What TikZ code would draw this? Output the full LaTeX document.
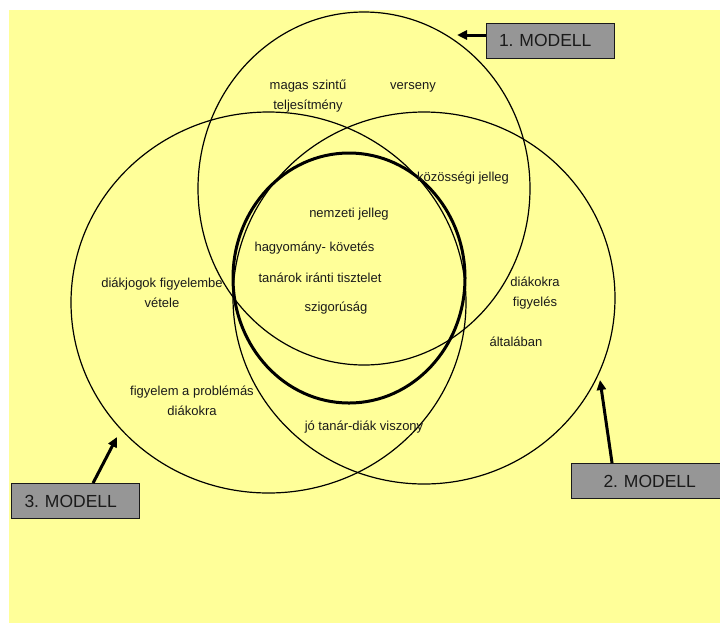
\documentclass[tikz,border=0pt]{standalone}
\usepackage{fontspec}
\setmainfont{Liberation Sans}
\usepackage{xcolor}
\usetikzlibrary{arrows.meta,calc}
\definecolor{venn}{HTML}{FFFF99}
\definecolor{boxgray}{HTML}{969696}
\definecolor{ink}{HTML}{1A1A1A}
\frenchspacing

\begin{document}
\begin{tikzpicture}[x=1pt,y=-1pt,>={Triangle[length=10pt,width=9pt]},
  lbl/.style={font=\fontsize{13}{20}\selectfont,text=ink,align=center,inner sep=0pt},
  modell/.style={draw=ink,fill=boxgray,line width=0.9pt,minimum height=35pt,inner ysep=0pt,inner xsep=13pt,text width=102pt,align=left,font=\fontsize{17.5}{20}\selectfont,text=ink},
  ring/.style={line width=1.2pt},
  arr/.style={->,line width=3pt}]
\useasboundingbox (0,0) rectangle (720,625);
\fill[venn] (9,10) rectangle (720,623);
\foreach \c/\rx/\ry in {{364,188.5}/166/176.5,{424,298}/191/186,{268.5,302.5}/197.5/190.5}{\draw[ring] (\c) ellipse [x radius=\rx,y radius=\ry];}
\draw[line width=3pt] (349,278) ellipse [x radius=116,y radius=125];
\foreach \n/\p/\t in {msz/{308,96}/{magas szintű\\teljesítmény},ver/{413,87}/{verseny},koz/{463,178}/{közösségi jelleg},
  nem/{349,214}/{nemzeti jelleg},hag/{314.5,248}/{hagyomány- követés},tan/{320,278}/{tanárok iránti tisztelet},szi/{336,308}/{szigorúság},
  dij/{162,293}/{diákjogok figyelembe\\vétele},fpd/{192,401}/{figyelem a problémás\\diákokra},jot/{364,427}/{jó tanár-diák viszony},
  dfi/{535,293}/{diákokra\\figyelés},alt/{516,342}/{általában}}{\node[lbl] (\n) at (\p) {\t};}
\node[modell] (m1) at (550,40.5) {1. MODELL};
\node[modell,inner xsep=32pt,text width=110pt] (m2) at (658.5,481) {2. MODELL};
\node[modell] (m3) at (75.5,501) {3. MODELL};
\coordinate (t1) at (457,35); \coordinate (t2) at (600,380); \coordinate (t3) at (117,437);
\draw[arr] (m1.west |- t1) -- (t1);
\draw[arr] ($(m2.north west)+(41,0)$) -- (t2);
\draw[arr] ($(m3.north west)+(82,0)$) -- (t3);
\end{tikzpicture}
\end{document}
